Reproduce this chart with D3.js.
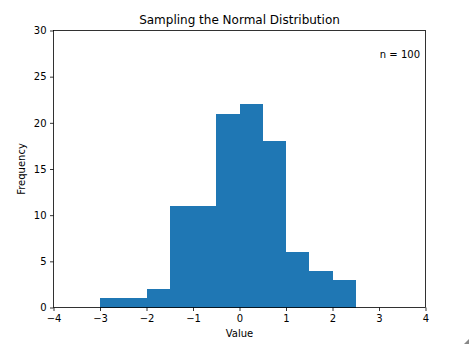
<!DOCTYPE html>
<html><head><meta charset="utf-8">
<script src="https://cdn.jsdelivr.net/npm/d3@7"></script>
<style>body{margin:0;background:#fff}svg{display:block}text{font-family:"DejaVu Sans",sans-serif;fill:#000}</style>
</head><body>
<svg id="c" width="471" height="347"></svg>
<script>
const binStarts = [-3,-2.5,-2,-1.5,-1,-0.5,0,0.5,1,1.5,2];
const binWidth = 0.5;
const counts = [1,1,2,11,11,21,22,18,6,4,3];
const xTicks = [-4,-3,-2,-1,0,1,2,3,4];
const yTicks = [0,5,10,15,20,25,30];
const titleText = "Sampling the Normal Distribution";
const noteText = "n = 100";

const svg = d3.select("#c");
const L=53.5,R=425.5,T=30.5,B=307.5;
const x = d3.scaleLinear().domain([-4,4]).range([L,R]);
const y = d3.scaleLinear().domain([0,30]).range([B,T]);

svg.append("g").selectAll("rect").data(binStarts).join("rect")
  .attr("x",(d)=>x(d)).attr("width",(d)=>x(d+binWidth)-x(d))
  .attr("y",(d,i)=>y(counts[i])).attr("height",(d,i)=>y(0)-y(counts[i]))
  .attr("fill","#1f77b4").attr("shape-rendering","crispEdges");

const fmt = d=> d<0 ? "\u2212"+Math.abs(d) : String(d);
const xa = svg.append("g").attr("transform",`translate(0,${B})`)
  .call(d3.axisBottom(x).tickValues(xTicks).tickFormat(fmt).tickSize(3.5).tickPadding(3.5));
const ya = svg.append("g").attr("transform",`translate(${L},0)`)
  .call(d3.axisLeft(y).tickValues(yTicks).tickFormat(fmt).tickSize(3.5).tickPadding(3.5));
[xa,ya].forEach(a=>{a.select(".domain").remove();
  a.selectAll("line").attr("stroke","#000").attr("stroke-width",0.8);
  a.selectAll("text").attr("font-family","DejaVu Sans").attr("font-size",10).attr("fill","#000");});

svg.append("rect").attr("x",L).attr("y",T).attr("width",R-L).attr("height",B-T)
  .attr("fill","none").attr("stroke","#000").attr("stroke-width",0.8);

svg.append("text").attr("x",(L+R)/2).attr("y",24).attr("text-anchor","middle").attr("font-size",12).text(titleText);
svg.append("text").attr("x",(L+R)/2).attr("y",337).attr("text-anchor","middle").attr("font-size",10).text("Value");
svg.append("text").attr("transform",`translate(24.5,${(T+B)/2}) rotate(-90)`).attr("text-anchor","middle").attr("font-size",10).text("Frequency");
svg.append("text").attr("x",420).attr("y",58).attr("text-anchor","end").attr("font-size",10).text(noteText);
svg.append("path").attr("d","M469,339 L469,344 L464,344 Z").attr("fill","#888");
</script>
</body></html>
